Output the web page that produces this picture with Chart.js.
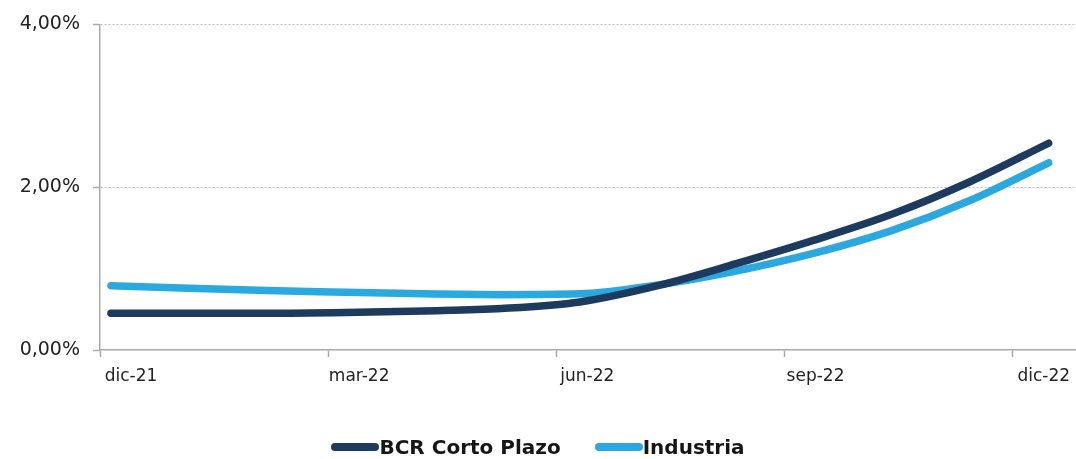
<!DOCTYPE html>
<html>
<head>
<meta charset="utf-8">
<script src="https://cdn.jsdelivr.net/npm/chart.js@4"></script>
<style>
  html, body { margin: 0; padding: 0; background: #fff; }
  #wrap { position: relative; width: 1076px; height: 459px; }
  #legend {
    position: absolute; left: 0; right: 0; top: 435px;
    display: flex; justify-content: center; gap: 34px;
    font-family: "DejaVu Sans", sans-serif; font-weight: bold; font-size: 20px; color: #161616;
  }
  .item { display: flex; align-items: center; }
  .bar { width: 48px; height: 8px; border-radius: 4px; }
</style>
</head>
<body>
<div id="wrap">
  <canvas id="tasaChart" width="1076" height="459"></canvas>
  <div id="legend"></div>
</div>
<script>
// monthly points, dic-21 .. dic-22
const months = ['dic-21', 'ene-22', 'feb-22', 'mar-22', 'abr-22', 'may-22', 'jun-22',
                'jul-22', 'ago-22', 'sep-22', 'oct-22', 'nov-22', 'dic-22'];
const bcrCortoPlazo = [0.45, 0.45, 0.45, 0.46, 0.48, 0.51, 0.59, 0.79, 1.06, 1.35, 1.67, 2.07, 2.54];
const industria = [0.79, 0.76, 0.73, 0.71, 0.69, 0.68, 0.69, 0.80, 0.97, 1.19, 1.47, 1.84, 2.30];
const tickLabels = ['dic-21', 'mar-22', 'jun-22', 'sep-22', 'dic-22'];

const seriesNames = ['BCR Corto Plazo', 'Industria'];
const seriesColors = ['#1d3a5f', '#2aa9e0'];

const xMin = -0.14, xMax = 12.35, quarterStep = 2.92;

function toPoints(values) {
    return values.map((v, i) => ({ x: i, y: v }));
}

const data = {
    datasets: [bcrCortoPlazo, industria].map((vals, i) => ({
        label: seriesNames[i],
        data: toPoints(vals),
        borderColor: seriesColors[i],
        backgroundColor: seriesColors[i],
        borderWidth: 7.5,
        borderCapStyle: 'round',
        borderJoinStyle: 'round',
        pointRadius: 0,
        cubicInterpolationMode: 'monotone'
    }))
};

const axisGrey = '#a9a9a9';

const options = {
    responsive: false,
    animation: false,
    layout: { padding: { top: 18, right: 0, left: 0, bottom: 59 } },
    plugins: {
        legend: { display: false },
        tooltip: { enabled: false }
    },
    scales: {
        x: {
            type: 'linear',
            min: xMin,
            max: xMax,
            afterBuildTicks: function(scale) {
                scale.ticks = tickLabels.map((l, i) => ({ value: xMin + i * quarterStep }));
            },
            afterFit: function(scale) { scale.height = 50; },
            ticks: {
                font: { family: 'DejaVu Sans', size: 17 },
                color: '#222',
                padding: 9,
                labelOffset: 31,
                maxRotation: 0,
                callback: function(value, index) { return tickLabels[index]; }
            },
            grid: {
                drawOnChartArea: false,
                drawTicks: true,
                tickLength: 7,
                tickColor: axisGrey,
                tickWidth: 1.5
            },
            border: { color: axisGrey, width: 1.5 }
        },
        y: {
            min: 0,
            max: 4,
            afterFit: function(scale) { scale.width = 100; },
            ticks: {
                stepSize: 2,
                font: { family: 'DejaVu Sans', size: 19 },
                color: '#222',
                padding: 13,
                callback: function(value) { return value.toFixed(2).replace('.', ',') + '%'; }
            },
            grid: {
                color: function(ctx) { return ctx.tick && ctx.tick.value === 0 ? 'rgba(0,0,0,0)' : '#bdbdbd'; },
                lineWidth: 1,
                drawTicks: true,
                tickLength: 7,
                tickColor: axisGrey,
                tickWidth: 1.5,
                tickBorderDash: []
            },
            border: { color: axisGrey, width: 1.5, dash: [2, 2] }
        }
    }
};

const ctx = document.getElementById('tasaChart').getContext('2d');
new Chart(ctx, { type: 'line', data: data, options: options });

// legend
const legend = document.getElementById('legend');
seriesNames.forEach((name, i) => {
    const item = document.createElement('div');
    item.className = 'item';
    const bar = document.createElement('span');
    bar.className = 'bar';
    bar.style.background = seriesColors[i];
    const txt = document.createElement('span');
    txt.textContent = name;
    item.appendChild(bar);
    item.appendChild(txt);
    legend.appendChild(item);
});
</script>
</body>
</html>
